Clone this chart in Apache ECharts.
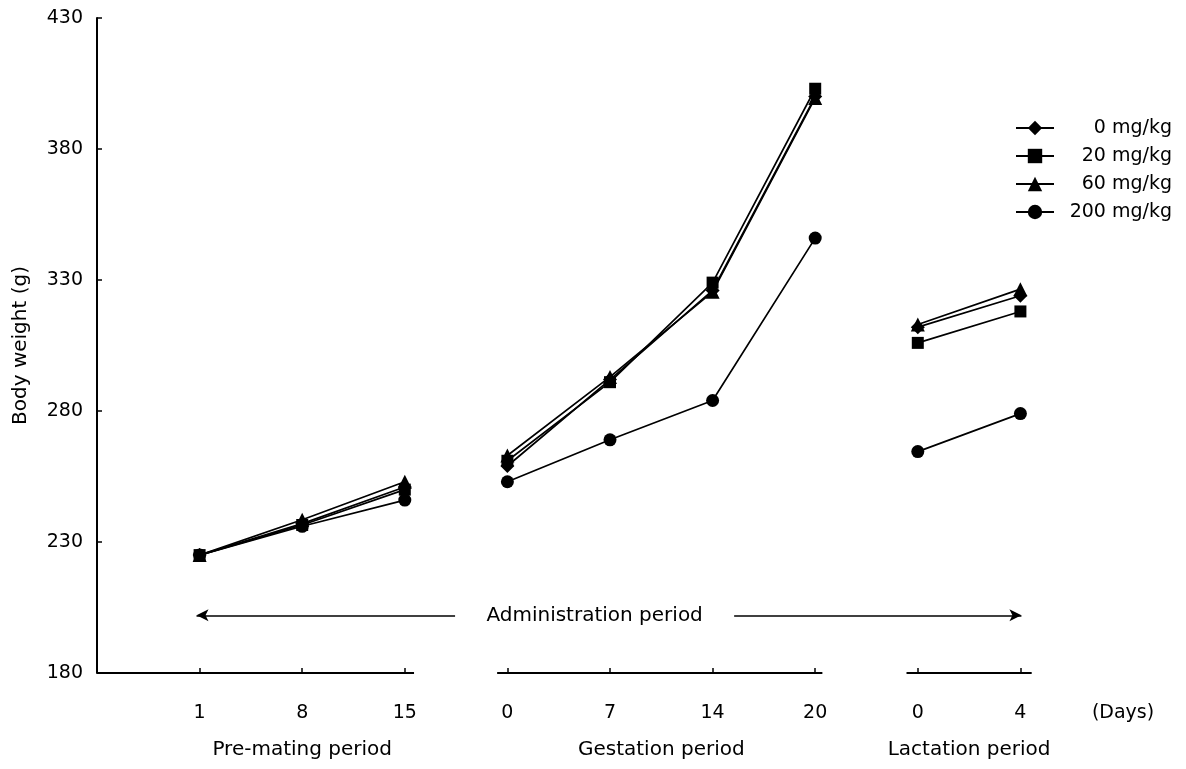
<!DOCTYPE html>
<html><head><meta charset="utf-8">
<script src="https://cdn.jsdelivr.net/npm/echarts@6/dist/echarts.min.js"></script>
<style>html,body{margin:0;padding:0;background:#fff}#c{width:1186px;height:769px}</style>
</head><body><div id="c"></div>
<script>
// ---- data ----
const xPositions = [1, 2, 3, 4, 5, 6, 7, 8, 9];
const groups = [[0, 1, 2], [3, 4, 5, 6], [7, 8]];
const tickLabels = ['1', '8', '15', '0', '7', '14', '20', '0', '4'];
const unitLabel = '(Days)';
const periodNames = ['Pre-mating period', 'Gestation period', 'Lactation period'];
const periodCenters = [2, 5.5, 8.5];
const seriesNames = ['0 mg/kg', '20 mg/kg', '60 mg/kg', '200 mg/kg'];
const seriesSymbols = ['diamond', 'rect', 'triangle', 'circle'];
const w0   = [225, 237,   251, 259, 292, 326,   400,   312, 324];
const w20  = [225, 236.5, 250, 261, 291, 329,   403,   306, 318];
const w60  = [225, 238.5, 253, 263, 293, 325.5, 399.5, 313, 326.5];
const w200 = [225, 236,   246, 253, 269, 284,   346,   264.5, 279];
const yTicks = [180, 230, 280, 330, 380, 430];
const axisSegments = [[0, 3.09], [3.9, 7.07], [7.89, 9.11]];
const adminText = 'Administration period';
const adminY = 202;
const adminLeft = [0.97, 3.49];
const adminRight = [6.21, 9.01];
const adminTextX = 4.85;

const FONT = 'DejaVu Sans';
const values = [w0, w20, w60, w200];
const symSizes = [14, 12, 14, 13];

function buildData(vals) {
  const out = [];
  groups.forEach((g, gi) => {
    if (gi > 0) out.push('-');
    g.forEach(i => out.push([xPositions[i], vals[i]]));
  });
  return out;
}

const segData = [];
axisSegments.forEach((s, i) => {
  if (i > 0) segData.push('-');
  segData.push([s[0], yTicks[0]], [s[1], yTicks[0]]);
});

const series = values.map((v, k) => ({
  name: seriesNames[k],
  type: 'line',
  data: buildData(v),
  connectNulls: false,
  symbol: seriesSymbols[k],
  symbolSize: symSizes[k],
  itemStyle: { color: '#000' },
  lineStyle: { color: '#000', width: 1.7 },
  z: 5 - k,
  animation: false
}));

series.push({
  name: 'axisSeg', type: 'line', data: segData, symbol: 'none',
  lineStyle: { color: '#000', width: 2 }, silent: true, animation: false
});
series.push({
  name: 'admin', type: 'scatter', data: [[adminTextX, adminY]],
  symbolSize: 0, silent: true, animation: false,
  itemStyle: { color: '#000', opacity: 1 },
  label: { show: true, position: 'inside', formatter: adminText, color: '#000', opacity: 1, textBorderWidth: 0, fontFamily: FONT, fontSize: 20 },
  markLine: {
    silent: true, animation: false,
    lineStyle: { color: '#000', width: 1.5, type: 'solid' },
    label: { show: false },
    symbolSize: [9, 12],
    data: [
      [{ coord: [adminLeft[0], adminY], symbol: 'arrow', symbolRotate: 90 }, { coord: [adminLeft[1], adminY], symbol: 'none' }],
      [{ coord: [adminRight[0], adminY], symbol: 'none' }, { coord: [adminRight[1], adminY], symbol: 'arrow' }]
    ]
  }
});

const chart = echarts.init(document.getElementById('c'), null, { renderer: 'canvas' });
chart.setOption({
  backgroundColor: '#fff',
  animation: false,
  grid: { left: 97, right: 63, top: 18, bottom: 96, containLabel: false },
  legend: {
    data: seriesNames,
    orient: 'vertical',
    left: 1010, top: 113,
    itemWidth: 38, itemHeight: 18, itemGap: 8,
    textStyle: {
      fontFamily: FONT, fontSize: 19, color: '#000', lineHeight: 20,
      rich: { a: { width: 113, align: 'right', fontFamily: FONT, fontSize: 19, color: '#000' } }
    },
    formatter: n => '{a|' + n + '}'
  },
  xAxis: [{
    type: 'value', min: 0, max: 10, interval: 1,
    axisLine: { show: false },
    splitLine: { show: false },
    axisTick: { show: true, inside: true, length: 5, customValues: xPositions, lineStyle: { color: '#000', width: 1.5 } },
    axisLabel: {
      customValues: xPositions.concat([10]),
      margin: 31, fontFamily: FONT, fontSize: 19, color: '#000',
      formatter: v => v === 10 ? unitLabel : (tickLabels[xPositions.indexOf(v)] || '')
    }
  }, {
    type: 'value', min: 0, max: 10, position: 'bottom',
    axisLine: { show: false }, axisTick: { show: false }, splitLine: { show: false },
    axisLabel: {
      customValues: periodCenters, margin: 67, fontFamily: FONT, fontSize: 20, color: '#000',
      formatter: v => periodNames[periodCenters.indexOf(v)] || ''
    }
  }],
  yAxis: {
    type: 'value', min: 180, max: 430, interval: 50,
    name: 'Body weight (g)', nameLocation: 'middle', nameGap: 66,
    nameTextStyle: { fontFamily: FONT, fontSize: 20, color: '#000' },
    axisLine: { show: true, lineStyle: { color: '#000', width: 2 } },
    axisTick: { show: true, inside: true, length: 5, lineStyle: { color: '#000', width: 1.5 } },
    splitLine: { show: false },
    axisLabel: { margin: 14, fontFamily: FONT, fontSize: 19, color: '#000' }
  },
  series: series
});
</script></body></html>
